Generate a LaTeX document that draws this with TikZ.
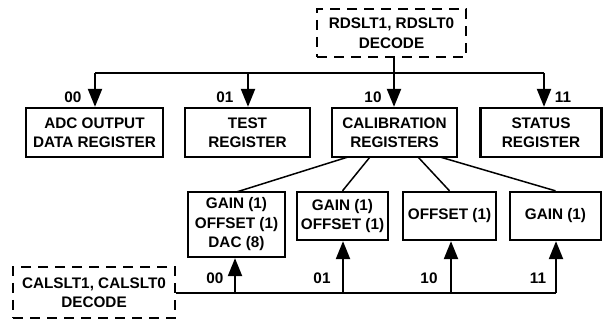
\documentclass[tikz,border=0pt]{standalone}
\usepackage{fontspec}
\setmainfont{Liberation Sans}
\usetikzlibrary{arrows.meta}
\begin{document}
\begin{tikzpicture}[x=1pt,y=-1pt,
  every node/.style={font=\fontsize{15.3}{19.5}\selectfont\bfseries, inner sep=0pt},
  regbox/.style={draw, line width=2.3pt, align=center},
  decbox/.style={draw, line width=2.2pt, dash pattern=on 10pt off 7pt, align=center},
  bus/.style={line width=2.2pt},
  link/.style={line width=1.5pt},
  arr/.style={line width=2.2pt, -{Triangle[length=18pt,width=14pt]}},
  lbl/.style={font=\fontsize{15.3}{18}\selectfont\bfseries}]
\useasboundingbox (0,0) rectangle (603,320);
% top decoder
\node[decbox, minimum width=149pt, minimum height=48pt] (rd) at (391.5,33) {RDSLT1, RDSLT0\\DECODE};
% registers
\node[regbox, minimum width=137pt, minimum height=49pt] (adc) at (94.5,132.5) {ADC OUTPUT\\DATA REGISTER};
\node[regbox, minimum width=125pt, minimum height=49pt] (test) at (247.5,132.5) {TEST\\REGISTER};
\node[regbox, minimum width=125pt, minimum height=49pt] (cal) at (394.5,132.5) {CALIBRATION\\REGISTERS};
\node[regbox, minimum width=121pt, minimum height=49pt] (stat) at (541,132.5) {STATUS\\REGISTER};
% calibration sub registers
\node[regbox, minimum width=97pt, minimum height=65pt] (c0) at (236.5,224.5) {GAIN (1)\\OFFSET (1)\\DAC (8)};
\node[regbox, minimum width=91pt, minimum height=48pt] (c1) at (342.5,216) {GAIN (1)\\OFFSET (1)};
\node[regbox, minimum width=93pt, minimum height=48pt] (c2) at (449.5,216) {OFFSET (1)};
\node[regbox, minimum width=91pt, minimum height=48pt] (c3) at (555.5,216) {GAIN (1)};
% bottom decoder
\node[decbox, minimum width=162pt, minimum height=51pt] (cd) at (94,292.5) {CALSLT1, CALSLT0\\DECODE};
% top bus
\coordinate (t0) at (95,73);
\coordinate (t1) at (248,73);
\coordinate (t2) at (394,73);
\coordinate (t3) at (544,73);
\draw[bus] (t0) -- (t3);
\draw[bus] (t2 |- rd.south) -- (t2);
\draw[arr] (t0) -- (t0 |- adc.north);
\draw[arr] (t1) -- (t1 |- test.north);
\draw[arr] (t2) -- (t2 |- cal.north);
\draw[arr] (t3) -- (t3 |- stat.north);
\node[lbl] (l00) at (73,97) {00};
\node[lbl] (l01) at (225,97) {01};
\node[lbl] (l10) at (373,97) {10};
\node[lbl] (l11) at (563,97) {11};
% links from calibration registers
\coordinate (k0) at (348,157);
\coordinate (k1) at (370,157);
\coordinate (k2) at (418,157);
\coordinate (k3) at (440,157);
\draw[link] (k0) -- (240,192 -| c0.north);
\draw[link] (k1) -- (c1.north);
\draw[link] (k2) -- (c2.north);
\draw[link] (k3) -- (c3.north);
% bottom bus
\coordinate (u0) at (235,293);
\coordinate (u1) at (343,293);
\coordinate (u2) at (451,293);
\coordinate (u3) at (556,293);
\draw[bus] (cd.east |- u0) -- (u3);
\draw[arr] (u0) -- (u0 |- c0.south);
\draw[arr] (u1) -- (u1 |- c1.south);
\draw[arr] (u2) -- (u2 |- c2.south);
\draw[arr] (u3) -- (u3 |- c3.south);
\node[lbl] (m00) at (215,278) {00};
\node[lbl] (m01) at (322,278) {01};
\node[lbl] (m10) at (429,278) {10};
\node[lbl] (m11) at (538,278) {11};
\end{tikzpicture}
\end{document}
